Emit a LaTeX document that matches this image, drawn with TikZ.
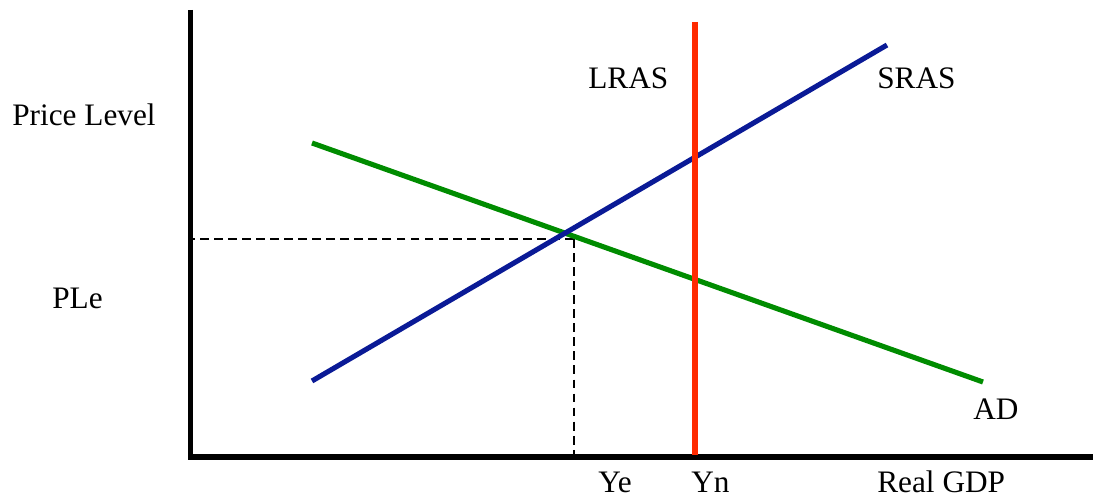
\documentclass[tikz,border=0pt]{standalone}
\usepackage{fontspec}
\setmainfont{Liberation Serif}
\usepackage{tikz}
\definecolor{adgreen}{HTML}{008C00}
\definecolor{srasblue}{HTML}{0A1A96}
\definecolor{lrasred}{HTML}{FF2A00}
\tikzset{
  axisline/.style={line width=2.9pt, black},
  curve/.style={line width=2.9pt},
  guide/.style={dashed, line width=0.8pt, dash pattern=on 5pt off 3pt},
  lbl/.style={anchor=base west, inner sep=0pt, font=\fontsize{17.8}{20}\selectfont},
}

\begin{document}
\begin{tikzpicture}[x=0.02cm, y=-0.02cm]
    \useasboundingbox (0,0) rectangle (1093,499);

    % --- axes ------------------------------------------------------------
    \coordinate (top)    at (190.5,10);
    \coordinate (origin) at (190.5,457);
    \coordinate (right)  at (1093,457);
    \draw[axisline] (top) -- (origin |- 0,459.5);
    \draw[axisline] (188,457) -- (right);

    % --- curve end points ------------------------------------------------
    \coordinate (adA)   at (312,143);
    \coordinate (adB)   at (983,382);
    \coordinate (srasA) at (312,381);
    \coordinate (srasB) at (887,45);
    \coordinate (lrasA) at (695,22);
    \coordinate (lrasB) at (695,455);
    \coordinate (eq)    at (574,239);

    % --- equilibrium guides ----------------------------------------------
    \draw[guide] (eq) -- (eq -| origin);
    \draw[guide] (eq) -- (eq |- origin);

    % --- curves ----------------------------------------------------------
    \draw[curve, adgreen]  (adA) -- (adB);
    \draw[curve, srasblue] (srasA) -- (srasB);
    \draw[curve, lrasred]  (lrasA) -- (lrasB);

    % --- labels ----------------------------------------------------------
    \node[lbl] (price) at (12,126)  {Price Level};
    \node[lbl] (ple)   at (52,309)  {PLe};
    \node[lbl] (lras)  at (588,89)  {LRAS};
    \node[lbl] (sras)  at (877,89)  {SRAS};
    \node[lbl] (ad)    at (973,420) {AD};
    \node[lbl] (ye)    at (598,493) {Ye};
    \node[lbl] (yn)    at (691,493) {Yn};
    \node[lbl] (gdp)   at (877,493) {Real GDP};
\end{tikzpicture}
\end{document}
